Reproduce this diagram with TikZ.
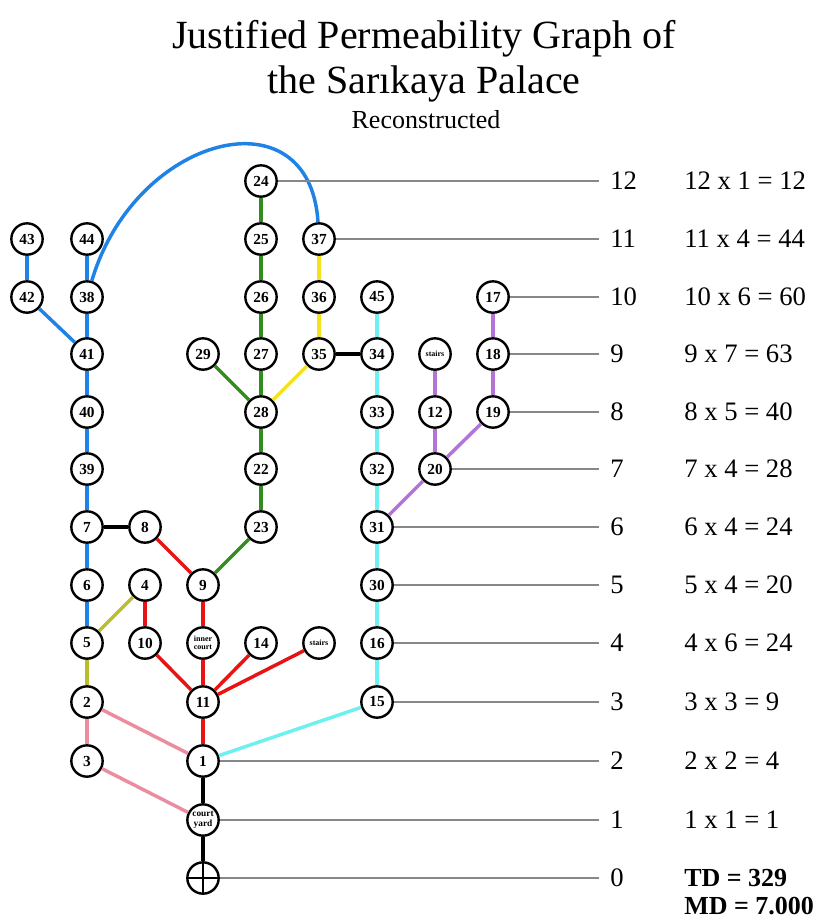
\documentclass[tikz,border=0pt]{standalone}
\usepackage{fontspec}
\setmainfont{Liberation Serif}
\definecolor{cBlue}{RGB}{30,130,230}
\definecolor{cGreen}{RGB}{50,140,30}
\definecolor{cYellow}{RGB}{245,225,30}
\definecolor{cCyan}{RGB}{110,240,240}
\definecolor{cPurple}{RGB}{180,115,215}
\definecolor{cRed}{RGB}{230,20,20}
\definecolor{cPink}{RGB}{235,140,160}
\definecolor{cOlive}{RGB}{185,190,45}
\definecolor{cGray}{RGB}{135,135,135}
\begin{document}
\begin{tikzpicture}[x=0.75pt,y=-0.75pt,
  rm/.style={circle,draw=black,line width=1.8pt,fill=white,minimum size=23.5pt,inner sep=0pt,font=\bfseries\fontsize{11.5}{12}\selectfont},
  sm/.style={rm,font=\bfseries\fontsize{6}{6}\selectfont,align=center},
  ed/.style={line width=2.6pt},
  lev/.style={line width=1.8pt,draw=cGray},
  lvl/.style={anchor=west,font=\fontsize{20}{21}\selectfont,inner sep=0pt},
  calc/.style={anchor=west,font=\fontsize{20}{21}\selectfont,inner sep=0pt},
]
\useasboundingbox (0,0) rectangle (826,922);
% title
\node[anchor=base,font=\fontsize{30}{32}\selectfont,inner sep=0pt] (t1) at (424,48) {Justified Permeability Graph of};
\node[anchor=base,font=\fontsize{30}{32}\selectfont,inner sep=0pt] (t2) at (424,93) {the Sarıkaya Palace};
\node[anchor=base,font=\fontsize{19.5}{21}\selectfont,inner sep=0pt] (t3) at (426,128) {Reconstructed};

% nodes
\node[rm] (n24) at (261,181) {24};
\node[rm] (n43) at (27,239) {43};
\node[rm] (n44) at (87,239) {44};
\node[rm] (n25) at (261,239) {25};
\node[rm] (n37) at (319,239) {37};
\node[rm] (n42) at (27,297) {42};
\node[rm] (n38) at (87,297) {38};
\node[rm] (n26) at (261,297) {26};
\node[rm] (n36) at (319,297) {36};
\node[rm] (n45) at (377,297) {45};
\node[rm] (n17) at (493,297) {17};
\node[rm] (n41) at (87,354) {41};
\node[rm] (n29) at (203,354) {29};
\node[rm] (n27) at (261,354) {27};
\node[rm] (n35) at (319,354) {35};
\node[rm] (n34) at (377,354) {34};
\node[sm] (st2) at (435,354) {stairs};
\node[rm] (n18) at (493,354) {18};
\node[rm] (n40) at (87,412) {40};
\node[rm] (n28) at (261,412) {28};
\node[rm] (n33) at (377,412) {33};
\node[rm] (n12) at (435,412) {12};
\node[rm] (n19) at (493,412) {19};
\node[rm] (n39) at (87,469) {39};
\node[rm] (n22) at (261,469) {22};
\node[rm] (n32) at (377,469) {32};
\node[rm] (n20) at (435,469) {20};
\node[rm] (n7) at (87,527) {7};
\node[rm] (n8) at (145,527) {8};
\node[rm] (n23) at (261,527) {23};
\node[rm] (n31) at (377,527) {31};
\node[rm] (n6) at (87,585) {6};
\node[rm] (n4) at (145,585) {4};
\node[rm] (n9) at (203,585) {9};
\node[rm] (n30) at (377,585) {30};
\node[rm] (n5) at (87,643) {5};
\node[rm] (n10) at (145,643) {10};
\node[sm] (inner) at (203,643) {inner\\court};
\node[rm] (n14) at (261,643) {14};
\node[sm] (st1) at (319,643) {stairs};
\node[rm] (n16) at (377,643) {16};
\node[rm] (n2) at (87,702) {2};
\node[rm] (n11) at (203,702) {11};
\node[rm] (n15) at (377,702) {15};
\node[rm] (n3) at (87,761) {3};
\node[rm] (n1) at (203,761) {1};
\node[sm,font=\bfseries\fontsize{7}{7}\selectfont] (cy) at (203,820) {court\\yard};
\node[rm,path picture={\draw[line width=1.8pt] (path picture bounding box.north) -- (path picture bounding box.south) (path picture bounding box.west) -- (path picture bounding box.east);}] (root) at (203,878) {};

% edges
\begin{scope}[ed]
\draw[black] (root) -- (cy);
\draw[black] (cy) -- (n1);
\draw[black] (n7) -- (n8);
\draw[black] (n35) -- (n34);
\draw[cPink] (cy) -- (n3);
\draw[cPink] (n3) -- (n2);
\draw[cPink] (n2) -- (n1);
\draw[cOlive] (n2) -- (n5);
\draw[cOlive] (n5) -- (n4);
\draw[cRed] (n1) -- (n11);
\draw[cRed] (n11) -- (n10);
\draw[cRed] (n10) -- (n4);
\draw[cRed] (n11) -- (inner);
\draw[cRed] (inner) -- (n9);
\draw[cRed] (n9) -- (n8);
\draw[cRed] (n11) -- (n14);
\draw[cRed] (n11) -- (st1);
\draw[cGreen] (n9) -- (n23);
\draw[cGreen] (n23) -- (n22);
\draw[cGreen] (n22) -- (n28);
\draw[cGreen] (n28) -- (n29);
\draw[cGreen] (n28) -- (n27);
\draw[cGreen] (n27) -- (n26);
\draw[cGreen] (n26) -- (n25);
\draw[cGreen] (n25) -- (n24);
\draw[cYellow] (n28) -- (n35);
\draw[cYellow] (n35) -- (n36);
\draw[cYellow] (n36) -- (n37);
\draw[cBlue] (n5) -- (n6);
\draw[cBlue] (n6) -- (n7);
\draw[cBlue] (n7) -- (n39);
\draw[cBlue] (n39) -- (n40);
\draw[cBlue] (n40) -- (n41);
\draw[cBlue] (n41) -- (n42);
\draw[cBlue] (n42) -- (n43);
\draw[cBlue] (n41) -- (n38);
\draw[cBlue] (n38) -- (n44);
\draw[cBlue] (n38) .. controls (135,135) and (310,90) .. (n37);
\draw[cCyan] (n1) -- (n15);
\draw[cCyan] (n15) -- (n16);
\draw[cCyan] (n16) -- (n30);
\draw[cCyan] (n30) -- (n31);
\draw[cCyan] (n31) -- (n32);
\draw[cCyan] (n32) -- (n33);
\draw[cCyan] (n33) -- (n34);
\draw[cCyan] (n34) -- (n45);
\draw[cPurple] (n31) -- (n20);
\draw[cPurple] (n20) -- (n12);
\draw[cPurple] (n12) -- (st2);
\draw[cPurple] (n20) -- (n19);
\draw[cPurple] (n19) -- (n18);
\draw[cPurple] (n18) -- (n17);
\end{scope}

% level lines and labels
\foreach \nd/\yy/\lv/\cc in {n24/181/12/{12 x 1 = 12}, n37/239/11/{11 x 4 = 44}, n17/297/10/{10 x 6 = 60}, n18/354/9/{9 x 7 = 63}, n19/412/8/{8 x 5 = 40}, n20/469/7/{7 x 4 = 28}, n31/527/6/{6 x 4 = 24}, n30/585/5/{5 x 4 = 20}, n16/643/4/{4 x 6 = 24}, n15/702/3/{3 x 3 = 9}, n1/761/2/{2 x 2 = 4}, cy/820/1/{1 x 1 = 1}} {
  \coordinate (e\lv) at (599,\yy);
  \draw[lev] (\nd) -- (e\lv);
  \node[lvl] (l\lv) at (610,\yy) {\lv};
  \node[calc] (c\lv) at (684,\yy) {\cc};
}
\coordinate (e0) at (599,878);
\draw[lev] (root) -- (e0);
\node[lvl] (l0) at (610,878) {0};
\node[calc,font=\bfseries\fontsize{19.5}{21}\selectfont] (td) at (684,878) {TD = 329};
\node[calc,font=\bfseries\fontsize{19.5}{21}\selectfont] (md) at (684,906) {MD = 7.000};
\end{tikzpicture}
\end{document}
